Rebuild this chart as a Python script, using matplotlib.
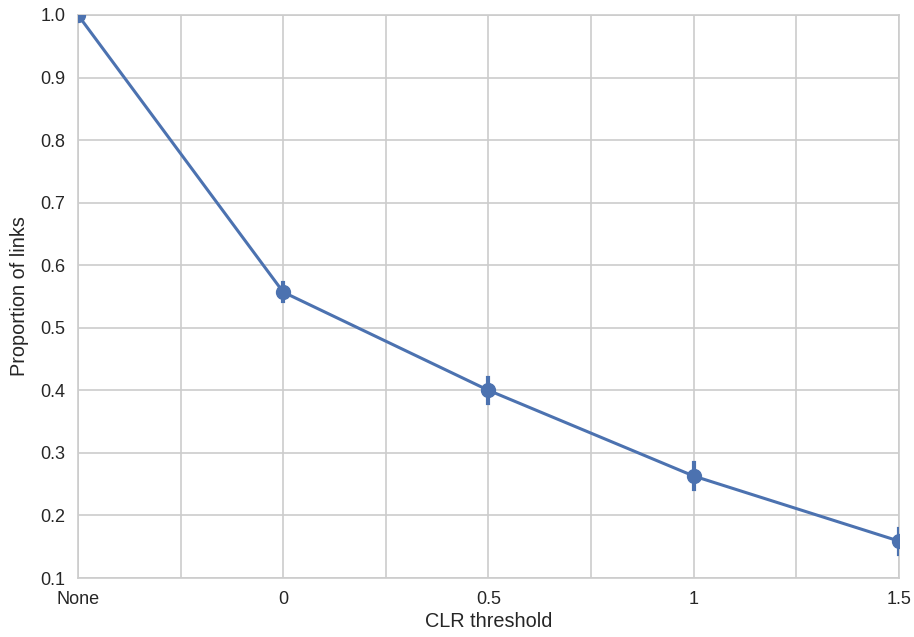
import numpy as np
import matplotlib.pyplot as plt

thresholds = ["None", "0", "0.5", "1", "1.5"]
proportion = [1.0, 0.557, 0.400, 0.263, 0.159]
ci_half = [0.0, 0.015, 0.020, 0.021, 0.020]

plt.rcParams['font.family'] = ['Liberation Sans', 'DejaVu Sans']

fig = plt.figure(figsize=(9.14, 6.37), dpi=100)
ax = fig.add_axes([0.0853, 0.0926, 0.8983, 0.8839])

blue = "#4C72B0"
x = np.arange(len(thresholds))
ax.plot(x, proportion, color=blue, lw=2.2, marker="o", ms=10, zorder=3)
for xi, yi, ci in zip(x, proportion, ci_half):
    ax.plot([xi, xi], [yi - ci, yi + ci], color=blue, lw=3, zorder=3)

ax.set_xlim(0, len(thresholds) - 1)
ax.set_ylim(0.1, 1.0)
ax.set_xticks(x)
ax.set_xticklabels(thresholds)
ax.set_xticks(np.arange(0.5, len(thresholds) - 1, 1), minor=True)
ax.set_yticks(np.arange(0.1, 1.01, 0.1))
ax.set_yticklabels(["%.1f" % v for v in np.arange(0.1, 1.01, 0.1)])

ax.grid(True, which="both", color="#cccccc", lw=1.2)
ax.set_axisbelow(True)
for s in ax.spines.values():
    s.set_color("#cccccc")
    s.set_linewidth(1.2)
ax.tick_params(which="both", length=0, labelsize=13, colors="#262626", pad=9)

ax.set_xlabel("CLR threshold", fontsize=14.3, color="#262626", labelpad=3)
ax.set_ylabel("Proportion of links", fontsize=14.3, color="#262626", labelpad=8)

fig.savefig("out.png", dpi=100)
